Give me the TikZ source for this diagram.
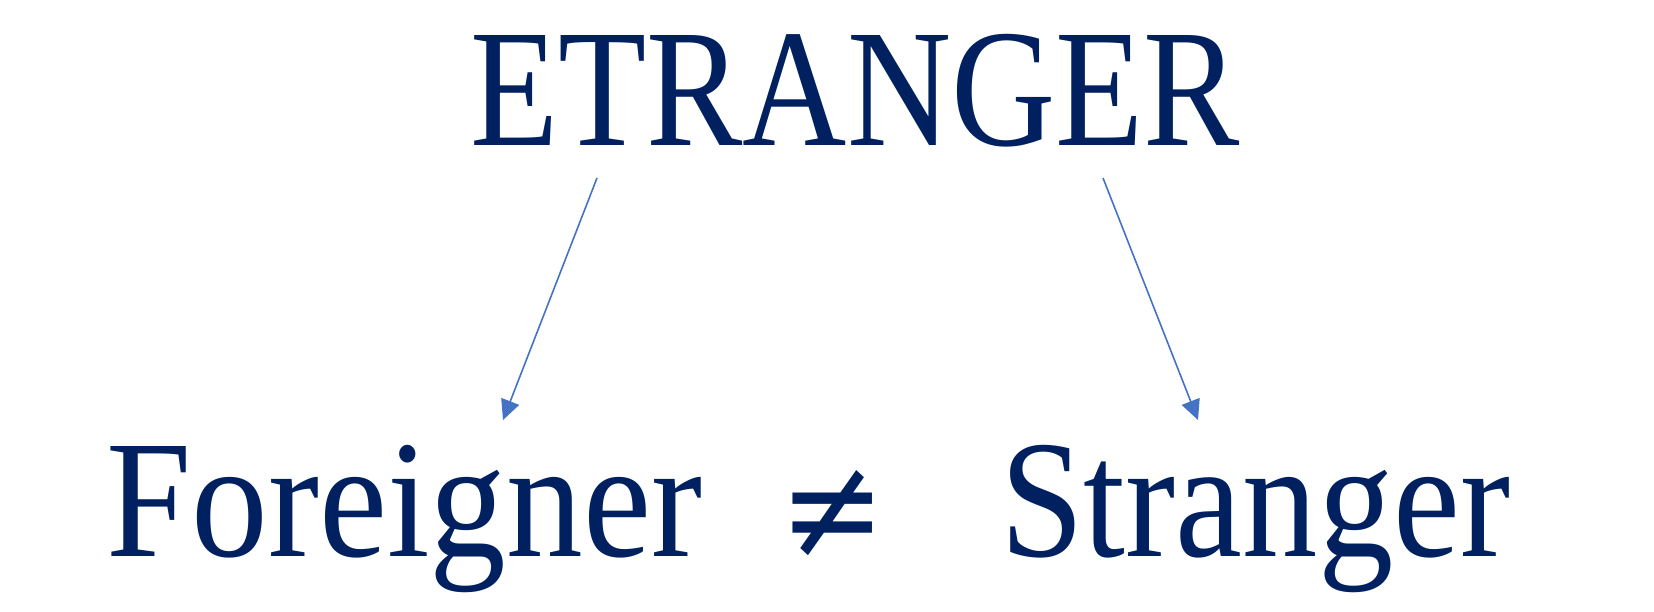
\documentclass[tikz,border=0pt]{standalone}
\usepackage{fontspec}
\setmainfont{Liberation Serif}
\newfontfamily\symfont{DejaVu Serif}
\usetikzlibrary{arrows.meta}
\definecolor{navy}{HTML}{002060}
\definecolor{arrowblue}{HTML}{4472C4}
\tikzset{
  word/.style={text=navy, inner sep=0pt, anchor=base west, font=\fontsize{168}{172}\selectfont},
  link/.style={draw=arrowblue, line width=1.6pt, -{Triangle[length=20pt,width=19pt]}}
}
\begin{document}
\begin{tikzpicture}[x=1pt,y=-1pt]
\useasboundingbox (0,0) rectangle (1654,612);
\node[word] (etranger) at (470,146) {\resizebox{770pt}{\height}{ETRANGER}};
\node[word] (foreigner) at (106,556) {\resizebox{596pt}{\height}{Foreigner}};
\node[word] (stranger) at (1000,556) {\resizebox{510pt}{\height}{Stranger}};
\node[text=navy, inner sep=0pt, font=\symfont\fontsize{127}{130}\selectfont] (neq) at (833,514.5) {\scalebox{1}[1.14]{≠}};
\coordinate (a1) at (597,178);
\coordinate (t1) at (503,420);
\coordinate (a2) at (1103,178);
\coordinate (t2) at (1198,420);
\draw[link] (a1) -- (t1);
\draw[link] (a2) -- (t2);
\end{tikzpicture}
\end{document}
